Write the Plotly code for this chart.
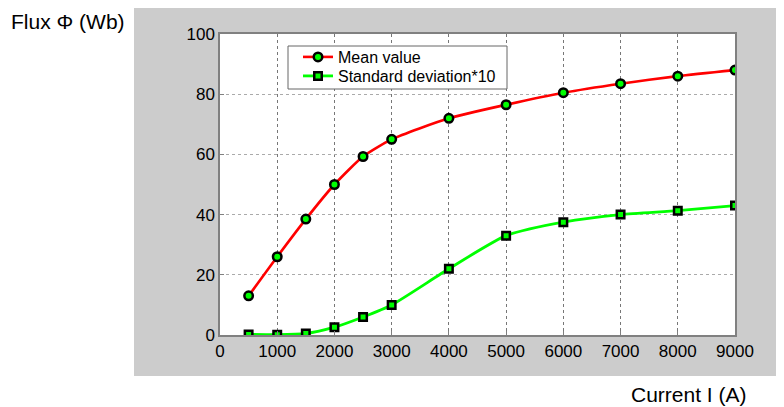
import plotly.graph_objects as go

# data
current = [500, 1000, 1500, 2000, 2500, 3000, 4000, 5000, 6000, 7000, 8000, 9000]
flux_mean = [13, 26, 38.5, 50, 59.3, 65, 72, 76.5, 80.5, 83.5, 86, 88]
flux_std10 = [0.2, 0.1, 0.5, 2.6, 6, 10, 22, 33, 37.5, 40, 41.3, 43]
x_ticks = [0, 1000, 2000, 3000, 4000, 5000, 6000, 7000, 8000, 9000]
y_ticks = [0, 20, 40, 60, 80, 100]

# page has an 8px body margin, so the figure starts at (8, 8)
OFF = 8
W, H = 784 - OFF, 407 - OFF
L, R, T, B = 220 - OFF, 49, 34 - OFF, 72
pw, ph = W - L - R, H - T - B


def px_x(p):
    return (p - OFF - L) / pw


def px_y(p):
    return (H - B - (p - OFF)) / ph


fig = go.Figure()

fig.add_trace(go.Scatter(
    x=current, y=flux_mean, name='Mean value', legend='legend',
    mode='lines+markers', line=dict(color='#ff0000', width=2.6, shape='spline', smoothing=0.6),
    marker=dict(symbol='circle', size=8.5, color='#00ff00', line=dict(color='black', width=2.5))
))
fig.add_trace(go.Scatter(
    x=current, y=flux_std10, name='Standard deviation*10', legend='legend2',
    mode='lines+markers', line=dict(color='#00ff00', width=2.8, shape='spline', smoothing=0.6),
    marker=dict(symbol='square', size=7.5, color='#00ff00', line=dict(color='black', width=2.5))
))

# gray panel behind the axes, white plot area on top of it
fig.add_shape(type='rect', xref='paper', yref='paper', layer='below',
              x0=px_x(134), x1=px_x(790), y0=px_y(376), y1=px_y(7),
              fillcolor='#cccccc', line=dict(width=0))
fig.add_shape(type='rect', xref='paper', yref='paper', layer='below',
              x0=0, x1=1, y0=0, y1=1, fillcolor='white', line=dict(width=0))
# legend frame (both legend entries sit inside it)
fig.add_shape(type='rect', xref='paper', yref='paper', layer='above',
              x0=px_x(288), x1=px_x(507), y0=px_y(89), y1=px_y(46),
              fillcolor='white', line=dict(color='#666666', width=1))

axis_style = dict(
    showgrid=True, griddash='dot', gridwidth=1,
    showline=True, linecolor='#808080', linewidth=1.5, mirror=True,
    ticks='inside', ticklen=4, tickcolor='#808080',
    zeroline=False, tickfont=dict(family='Arial, Liberation Sans', size=17, color='black'),
)

fig.update_xaxes(range=[0, 9000], tickvals=x_ticks, gridcolor='#777777', **axis_style)
fig.update_yaxes(range=[0, 100], tickvals=y_ticks, gridcolor='#aaaaaa', **axis_style)

fig.add_annotation(text='Flux Φ (Wb)', xref='paper', yref='paper',
                   x=px_x(9), y=px_y(22), xanchor='left', yanchor='middle', showarrow=False,
                   font=dict(family='Arial, Liberation Sans', size=21, color='black'))
fig.add_annotation(text='Current I (A)', xref='paper', yref='paper',
                   x=px_x(749), y=px_y(394), xanchor='right', yanchor='middle', showarrow=False,
                   font=dict(family='Arial, Liberation Sans', size=21, color='black'))

legend_style = dict(xanchor='left', yanchor='middle', bgcolor='rgba(0,0,0,0)', borderwidth=0,
                    font=dict(family='Arial, Liberation Sans', size=16, color='black'),
                    itemwidth=30)

fig.update_layout(
    width=W, height=H,
    margin=dict(l=L, r=R, t=T, b=B),
    paper_bgcolor='white', plot_bgcolor='white',
    showlegend=True,
    legend=dict(x=px_x(298), y=px_y(57), **legend_style),
    legend2=dict(x=px_x(298), y=px_y(76), **legend_style),
)

fig.write_html("out.html")
